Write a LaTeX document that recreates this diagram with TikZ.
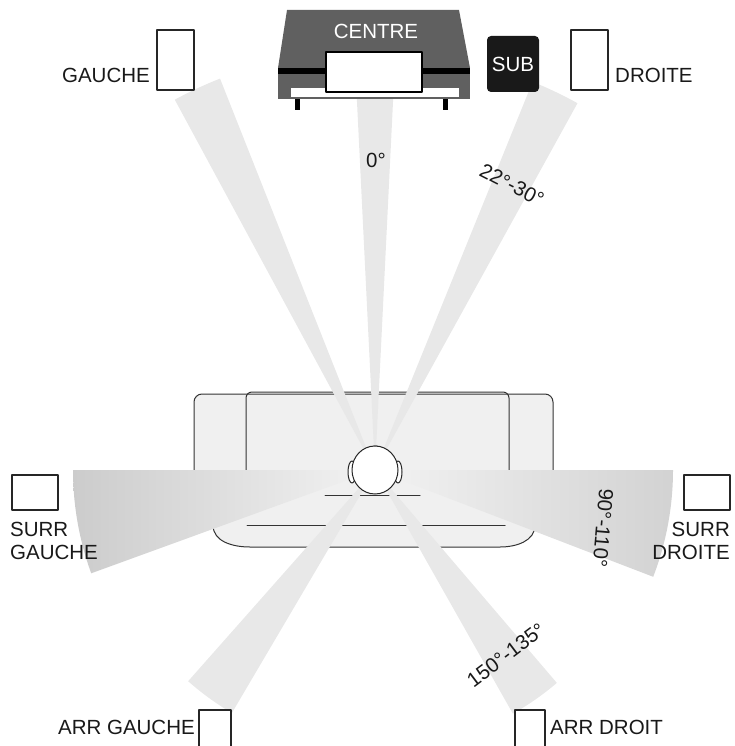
\documentclass[tikz,border=0pt]{standalone}
\usepackage{fontspec}
\setmainfont{Liberation Sans}
\usetikzlibrary{positioning}
\tikzset{
  spk/.style={draw=black!85,line width=1.6pt,fill=white},
  lbl/.style={font=\fontsize{20.5}{23}\selectfont,text=black!90,inner sep=0pt},
  fan/.style={fill=gray!18,draw=none},
  sofa/.style={draw=black!80,line width=1pt,fill=gray!12}
}
\newcommand{\beam}[4]{% apex, mid angle, half width, radius
  \fill[fan] #1 -- ++(#2-#3:#4) arc[start angle=#2-#3,end angle=#2+#3,radius=#4] -- cycle;}
\begin{document}
\begin{tikzpicture}[x=1pt,y=1pt,line cap=round,line join=round]
\useasboundingbox (0,0) rectangle (734,-746);
% sofa
\draw[sofa] (213,-477) -- (213,-525) to[out=-90,in=180] (250,-547) -- (500,-547) to[out=0,in=-90] (535,-525) -- (535,-477) -- cycle;
\draw[sofa,rounded corners=8pt] (194,-477) -- (194,-394) -- (553,-394) -- (553,-477);
\draw[black!80,line width=1pt,rounded corners=6pt] (246,-477) -- (246,-392) -- (509,-392) -- (509,-477);
\draw[black!80,line width=1pt] (247,-525) -- (505,-525);
\draw[black!80,line width=1pt] (325,-495) -- (420,-495);
% beams
\coordinate (ear) at (375,-470);
\beam{(ear)}{90}{2.8}{375}
\beam{(ear)}{115}{3.4}{421}
\beam{(ear)}{64.5}{3.4}{419}
\beam{(ear)}{234}{5.5}{282}
\beam{(ear)}{305}{5.5}{280}
\shade[left color=gray!40,right color=gray!10] (ear) -- ++(180:302) arc[start angle=180,end angle=200,radius=302] -- cycle;
\shade[left color=gray!10,right color=gray!35] (ear) -- ++(0:298) arc[start angle=0,end angle=-21,radius=298] -- cycle;
% head
\draw[black!85,line width=1pt,fill=white] (372,-450) -- (374,-446) -- (377,-446) -- (379,-450);
\draw[black!85,line width=1pt,fill=white] (352,-472) ellipse (4 and 11);
\draw[black!85,line width=1pt,fill=white] (398,-472) ellipse (4 and 11);
\draw[black!85,line width=1pt,fill=white] (375,-470) ellipse (23 and 24);
% centre speaker
\fill[gray!75!black] (287,-10) -- (459,-10) -- (470,-68) -- (278,-68) -- cycle;
\fill[black] (278,-68) rectangle (470,-74);
\fill[gray!75!black] (278,-74) rectangle (470,-99);
\fill[white] (291,-88) rectangle (459,-97);
\fill[black] (295,-99) rectangle (300,-110);
\fill[black] (443,-99) rectangle (448,-110);
\draw[black,line width=1.4pt,fill=white] (326,-52) rectangle (422,-92);
\node[lbl,text=white] (centre) at (376,-31) {CENTRE};
\node[fill=black!90,rounded corners=4pt,minimum width=52pt,minimum height=56pt,inner sep=0pt] (sub) at (513,-64) {};
\node[lbl,text=white] at (sub) {SUB};
% speakers
\draw[spk] (157,-30) rectangle (194,-90);
\node[lbl,anchor=east] (gauche) at (150,-75) {GAUCHE};
\draw[spk] (571,-30) rectangle (608,-90);
\node[lbl,anchor=west] (droite) at (615,-75) {DROITE};
\draw[spk] (12,-475) rectangle (58,-510);
\node[lbl,anchor=north west,align=left] (sg) at (10,-522) {SURR\\GAUCHE};
\draw[spk] (684,-475) rectangle (730,-510);
\node[lbl,anchor=north east,align=right] (sd) at (730,-522) {SURR\\DROITE};
\draw[spk] (199,-710) rectangle (231,-750);
\node[lbl,anchor=east] (ag) at (195,-727) {ARR GAUCHE};
\draw[spk] (515,-710) rectangle (545,-750);
\node[lbl,anchor=west] (ad) at (550,-727) {ARR DROIT};
% angles
\node[lbl] (a0) at (376,-160) {0°};
\node[lbl,rotate=-27] (a1) at (512,-185) {22°-30°};
\node[lbl,rotate=-95] (a2) at (603,-528) {90°-110°};
\node[lbl,rotate=37] (a3) at (506,-655) {150°-135°};
\end{tikzpicture}
\end{document}
